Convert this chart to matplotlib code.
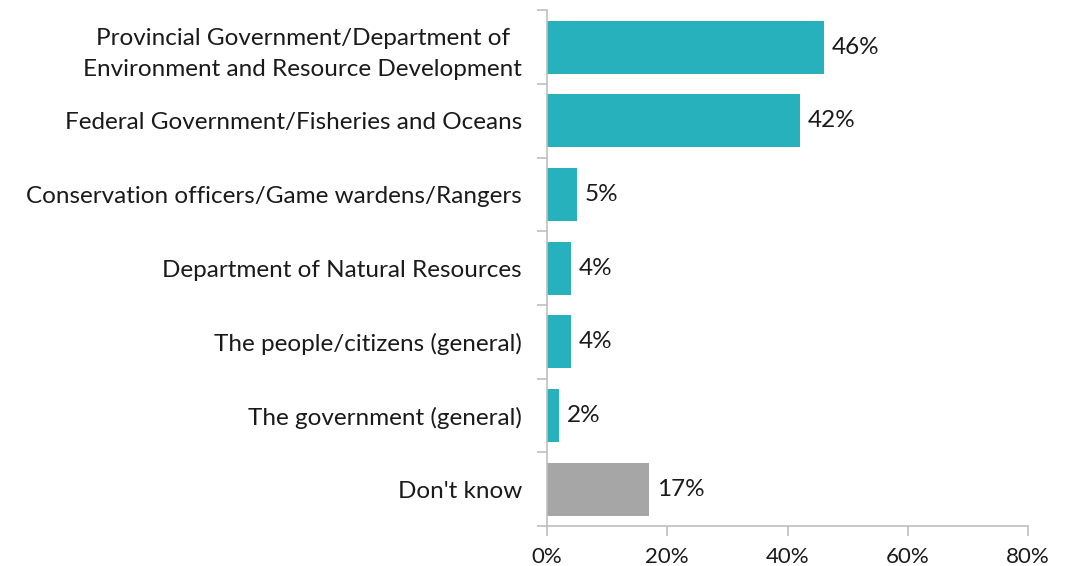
import numpy as np
import matplotlib.pyplot as plt

categories = ["Provincial Government/Department of\nEnvironment and Resource Development",
              "Federal Government/Fisheries and Oceans",
              "Conservation officers/Game wardens/Rangers",
              "Department of Natural Resources",
              "The people/citizens (general)",
              "The government (general)",
              "Don't know"]
values = [46, 42, 5, 4, 4, 2, 17]
xticks = [0, 20, 40, 60, 80]

teal = "#26B1BD"
grey = "#A6A6A6"
axis_col = "#BFBFBF"
colors = [teal] * 6 + [grey]

plt.rcParams['font.family'] = ['Lato', 'DejaVu Sans']

fig = plt.figure(figsize=(10.76, 5.66), dpi=100)
ax = fig.add_axes([0.5084, 0.0707, 0.447, 0.9113])

y = np.arange(len(categories))
ax.barh(y, values, height=0.72, color=colors)
for yi, v in zip(y, values):
    ax.text(v + 1.3, yi, f"{v}%", va="center", ha="left", fontsize=17.5, color="#1a1a1a")

ax.set_ylim(len(categories) - 0.5, -0.5)
ax.set_xlim(0, 80)
ax.set_yticks(y)
ax.set_yticklabels(categories, fontsize=17.5, color="#1a1a1a",
                   linespacing=1.6, multialignment="center")
ax.tick_params(axis="y", which="major", length=0, pad=18)
ax.set_yticks(np.arange(len(categories) + 1) - 0.5, minor=True)
ax.tick_params(axis="y", which="minor", length=7, color=axis_col, width=1.2)
ax.set_xticks(xticks)
ax.set_xticklabels([f"{t}%" for t in xticks], fontsize=16, color="#1a1a1a")
ax.tick_params(axis="x", length=7, color=axis_col, width=1.2, pad=8)

for s in ["top", "right"]:
    ax.spines[s].set_visible(False)
for s in ["left", "bottom"]:
    ax.spines[s].set_color(axis_col)
    ax.spines[s].set_linewidth(1.2)

fig.savefig("out.png", dpi=100)
